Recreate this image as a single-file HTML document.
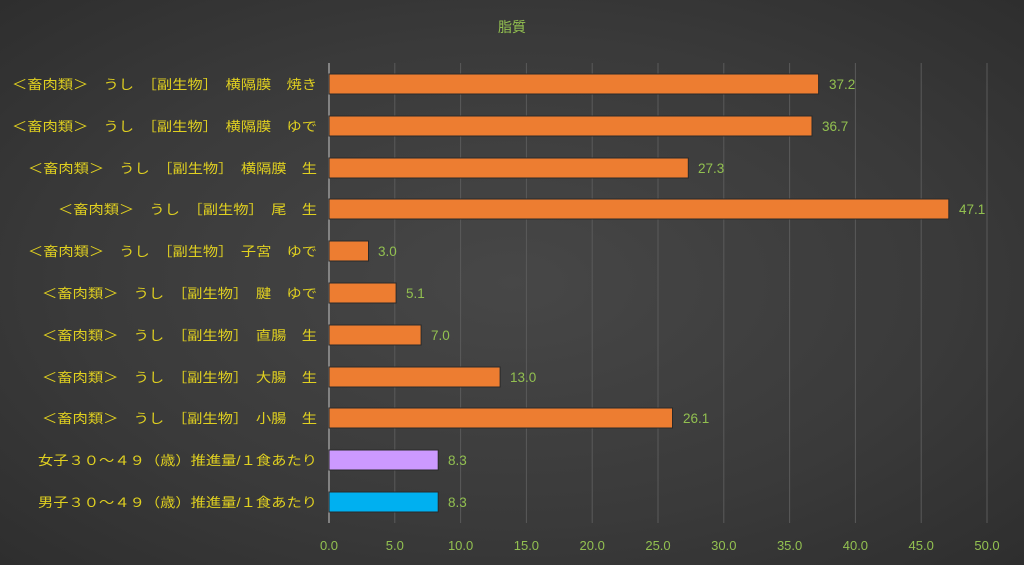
<!DOCTYPE html>
<html><head><meta charset="utf-8"><style>
body{margin:0;width:1024px;height:565px;overflow:hidden;background:radial-gradient(ellipse at center,#474747 0%,#3a3a3a 60%,#2e2e2e 100%);font-family:"Liberation Sans","Noto Sans CJK JP",sans-serif;}
</style></head><body>
<svg width="1024" height="565" xmlns="http://www.w3.org/2000/svg" style="position:absolute;left:0;top:0">
<text x="512" y="32" fill="#92c050" font-size="14" text-anchor="middle" font-family="Liberation Sans,Noto Sans CJK JP,sans-serif">脂質</text>
<g stroke="#5a5a5a" stroke-width="1">
<line x1="394.8" y1="63" x2="394.8" y2="523"/><line x1="460.6" y1="63" x2="460.6" y2="523"/><line x1="526.4" y1="63" x2="526.4" y2="523"/><line x1="592.2" y1="63" x2="592.2" y2="523"/><line x1="658" y1="63" x2="658" y2="523"/><line x1="723.8" y1="63" x2="723.8" y2="523"/><line x1="789.6" y1="63" x2="789.6" y2="523"/><line x1="855.4" y1="63" x2="855.4" y2="523"/><line x1="921.2" y1="63" x2="921.2" y2="523"/><line x1="987" y1="63" x2="987" y2="523"/>
</g>
<line x1="329" y1="63" x2="329" y2="523" stroke="#999" stroke-width="1.5"/>
<g font-size="13" fill="#92c050" text-anchor="middle" font-family="Liberation Sans,sans-serif">
<text x="329" y="550">0.0</text><text x="394.8" y="550">5.0</text><text x="460.6" y="550">10.0</text><text x="526.4" y="550">15.0</text><text x="592.2" y="550">20.0</text><text x="658" y="550">25.0</text><text x="723.8" y="550">30.0</text><text x="789.6" y="550">35.0</text><text x="855.4" y="550">40.0</text><text x="921.2" y="550">45.0</text><text x="987" y="550">50.0</text>
</g>
<g stroke="#2a2a2a" stroke-width="1">
<rect x="329" y="74" width="489.6" height="20" fill="#ed7d31"/>
<rect x="329" y="116" width="483" height="20" fill="#ed7d31"/>
<rect x="329" y="158" width="359.3" height="20" fill="#ed7d31"/>
<rect x="329" y="199" width="619.8" height="20" fill="#ed7d31"/>
<rect x="329" y="241" width="39.5" height="20" fill="#ed7d31"/>
<rect x="329" y="283" width="67.1" height="20" fill="#ed7d31"/>
<rect x="329" y="325" width="92.1" height="20" fill="#ed7d31"/>
<rect x="329" y="367" width="171.1" height="20" fill="#ed7d31"/>
<rect x="329" y="408" width="343.5" height="20" fill="#ed7d31"/>
<rect x="329" y="450" width="109.2" height="20" fill="#cc99ff"/>
<rect x="329" y="492" width="109.2" height="20" fill="#00b0f0"/>
</g>
<g font-size="13.5" fill="#92c050" font-family="Liberation Sans,sans-serif">
<text x="829" y="89">37.2</text><text x="822" y="131">36.7</text><text x="698" y="173">27.3</text><text x="959" y="214">47.1</text><text x="378" y="256">3.0</text><text x="406" y="298">5.1</text><text x="431" y="340">7.0</text><text x="510" y="382">13.0</text><text x="683" y="423">26.1</text><text x="448" y="465">8.3</text><text x="448" y="507">8.3</text>
</g>
<g font-size="13" fill="#e0d020" font-family="Liberation Sans,Noto Sans CJK JP,sans-serif" lengthAdjust="spacingAndGlyphs">
<text x="12" y="89" textLength="305" lengthAdjust="spacingAndGlyphs">＜畜肉類＞　うし　［副生物］　横隔膜　焼き</text>
<text x="12" y="131" textLength="305" lengthAdjust="spacingAndGlyphs">＜畜肉類＞　うし　［副生物］　横隔膜　ゆで</text>
<text x="28" y="173" textLength="289" lengthAdjust="spacingAndGlyphs">＜畜肉類＞　うし　［副生物］　横隔膜　生</text>
<text x="58" y="214" textLength="259" lengthAdjust="spacingAndGlyphs">＜畜肉類＞　うし　［副生物］　尾　生</text>
<text x="28" y="256" textLength="289" lengthAdjust="spacingAndGlyphs">＜畜肉類＞　うし　［副生物］　子宮　ゆで</text>
<text x="42" y="298" textLength="275" lengthAdjust="spacingAndGlyphs">＜畜肉類＞　うし　［副生物］　腱　ゆで</text>
<text x="42" y="340" textLength="275" lengthAdjust="spacingAndGlyphs">＜畜肉類＞　うし　［副生物］　直腸　生</text>
<text x="42" y="382" textLength="275" lengthAdjust="spacingAndGlyphs">＜畜肉類＞　うし　［副生物］　大腸　生</text>
<text x="42" y="423" textLength="275" lengthAdjust="spacingAndGlyphs">＜畜肉類＞　うし　［副生物］　小腸　生</text>
<text x="38" y="465" textLength="279" lengthAdjust="spacingAndGlyphs">女子３０～４９（歳）推進量/１食あたり</text>
<text x="38" y="507" textLength="279" lengthAdjust="spacingAndGlyphs">男子３０～４９（歳）推進量/１食あたり</text>
</g>
</svg>
</body></html>
